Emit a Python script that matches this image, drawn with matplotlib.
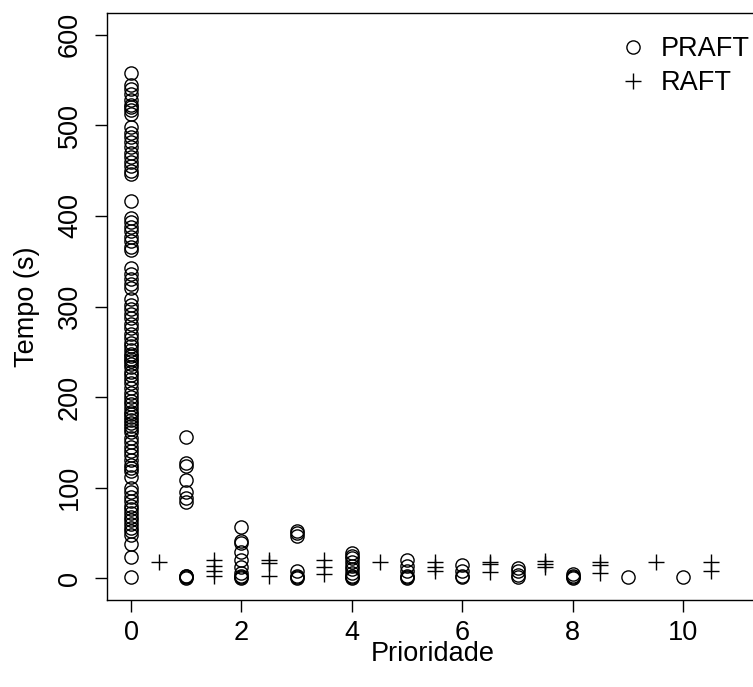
import matplotlib
matplotlib.use("Agg")
import matplotlib.pyplot as plt

plt.rcParams['font.family'] = ['Liberation Sans', 'DejaVu Sans']

# PRAFT: time (s) per priority
praft = {
    0: [558, 545, 540, 535, 528, 522, 520, 517, 512, 498, 492, 487, 482, 476,
        470, 465, 460, 455, 450, 446, 417, 398, 393, 388, 383, 377, 372, 366,
        362, 342, 336, 330, 325, 320, 308, 302, 297, 292, 287, 281, 276, 270,
        265, 260, 256, 252, 248, 245, 242, 240, 237, 233, 228, 224, 220, 215,
        210, 205, 200, 196, 192, 188, 184, 181, 178, 175, 171, 168, 165, 162,
        155, 150, 145, 140, 136, 130, 125, 122, 118, 112, 100, 95, 90, 85, 80,
        76, 72, 68, 64, 60, 56, 52, 48, 38, 23, 1],
    1: [156, 127, 124, 109, 95, 89, 84, 3, 2, 1, 0],
    2: [57, 41, 39, 29, 20, 12, 6, 3, 1, 0],
    3: [52, 50, 47, 8, 3, 1, 0],
    4: [28, 25, 22, 18, 14, 10, 6, 3, 1, 0],
    5: [20, 13, 8, 3, 1, 0],
    6: [15, 8, 3, 1],
    7: [11, 8, 4, 1],
    8: [5, 3, 1, 0],
    9: [1],
    10: [1],
}

# RAFT: time (s) per priority (offset by 0.5)
raft = {
    0.5: [18],
    1.5: [20, 14, 8, 3],
    2.5: [20, 17, 3],
    3.5: [20, 12, 5],
    4.5: [18],
    5.5: [18, 12, 8],
    6.5: [18, 16, 7],
    7.5: [19, 16, 12],
    8.5: [18, 15, 6],
    9.5: [18],
    10.5: [18, 8],
}

px, py = [], []
for k, vals in praft.items():
    px += [k] * len(vals)
    py += vals
rx, ry = [], []
for k, vals in raft.items():
    rx += [k] * len(vals)
    ry += vals

FS = 19.5

fig = plt.figure(figsize=(7.53, 6.87), dpi=100)
ax = fig.add_axes([107 / 753, 87 / 687, 648 / 753, 587 / 687])

ax.plot(px, py, linestyle='none', marker='o', markersize=9.5,
        markerfacecolor='none', markeredgecolor='black', markeredgewidth=1.0,
        label='PRAFT')
ax.plot(rx, ry, linestyle='none', marker='+', markersize=11,
        color='black', markeredgewidth=1.0, label='RAFT')

ax.set_xlim(-0.435, 11.3)
ax.set_ylim(-24, 624)
ax.set_xticks([0, 2, 4, 6, 8, 10])
ax.set_yticks([0, 100, 200, 300, 400, 500, 600])
ax.tick_params(direction='out', length=8.3, width=1, labelsize=FS, pad=6)
ax.tick_params(axis='y', pad=9)
for lab in ax.get_yticklabels():
    lab.set_rotation(90)
    lab.set_va('center')

for s in ax.spines.values():
    s.set_linewidth(1)

ax.set_xlabel('Prioridade', fontsize=FS)
ax.set_ylabel('Tempo (s)', fontsize=FS)
ax.xaxis.label.set_va('center')
ax.xaxis.set_label_coords((433 - 107) / 648, (600 - 654) / 587)
ax.yaxis.label.set_va('center')
ax.yaxis.set_label_coords((27 - 107) / 648, 0.5)

ax.legend(loc='upper right', bbox_to_anchor=(750 / 753, (687 - 36) / 687),
          bbox_transform=fig.transFigure, frameon=False, fontsize=FS,
          handlelength=1.0, handletextpad=0.55, labelspacing=0.3,
          borderpad=0, borderaxespad=0)

fig.savefig('out.png', dpi=100)
